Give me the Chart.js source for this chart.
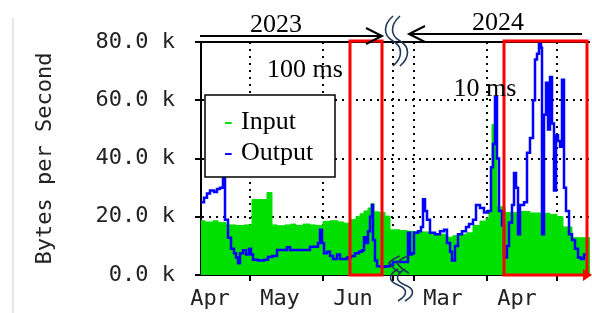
<!DOCTYPE html>
<html>
<head>
<meta charset="utf-8">
<script src="https://cdn.jsdelivr.net/npm/chart.js@4.4.1/dist/chart.umd.min.js"></script>
<style>
    html, body { margin: 0; padding: 0; background: #fff; }
    canvas { display: block; }
</style>
</head>
<body>
<canvas id="trafficChart" width="592" height="313"></canvas>
<script>
// Samples along the (joined) time axis, values in k bytes/s
const inputSample = [0, 4, 12, 17, 25, 35, 43, 51, 66, 71, 76, 84, 90, 95, 102, 109, 115, 122, 129, 137, 143, 149, 155, 159, 163, 167, 170, 173, 178, 184, 189, 199, 206, 212, 219, 229, 239, 246, 252, 259, 266, 272, 279, 285, 288, 291, 296, 304, 319, 329, 339, 349, 356, 362, 371, 389];
const inputK = [18.6, 18.2, 18.6, 18.0, 17.2, 17.0, 17.2, 25.9, 28.3, 17.2, 16.9, 17.2, 17.5, 17.0, 17.5, 17.2, 17.0, 18.4, 18.6, 18.2, 17.8, 19.0, 20.0, 21.0, 22.0, 23.0, 24.5, 21.7, 21.5, 20.2, 15.5, 15.3, 15.0, 14.8, 14.8, 14.2, 14.0, 13.0, 13.5, 14.0, 14.5, 17.0, 18.5, 19.5, 21.4, 51.7, 23.4, 21.5, 21.8, 21.3, 21.2, 20.8, 20.0, 16.5, 12.8, 12.8];

const outputSample = [0, 3, 6, 9, 13, 16, 19, 22, 24, 27, 30, 33, 35, 37, 39, 42, 45, 48, 50, 52, 57, 63, 67, 71, 76, 81, 86, 89, 94, 99, 105, 109, 114, 117, 119, 121, 123, 126, 129, 132, 136, 139, 143, 146, 150, 154, 158, 161, 163, 165, 167, 169, 171, 172, 174, 176, 180, 185, 189, 192, 206, 207, 209, 211, 213, 217, 220, 222, 224, 226, 229, 234, 239, 243, 246, 249, 251, 254, 257, 261, 265, 268, 272, 275, 279, 283, 287, 290, 292, 294, 296, 298, 301, 303, 306, 308, 311, 313, 315, 317, 319, 323, 326, 329, 332, 334, 336, 338, 340, 341, 343, 345, 347, 349, 351, 353, 355, 357, 359, 361, 363, 365, 368, 371, 374, 377, 380, 383, 385];
const outputK = [25.0, 26.5, 28.0, 29.0, 28.5, 29.5, 30.0, 33.4, 19.0, 12.8, 9.0, 7.5, 6.0, 4.0, 7.5, 8.5, 7.0, 9.0, 7.0, 5.2, 5.0, 5.2, 6.2, 6.5, 8.6, 8.6, 9.5, 8.6, 8.6, 8.6, 8.6, 9.7, 9.7, 11.0, 15.5, 11.0, 7.5, 8.0, 6.5, 5.5, 7.0, 5.5, 5.5, 6.0, 6.5, 7.5, 8.0, 8.5, 13.0, 11.0, 15.0, 20.0, 24.0, 12.0, 5.0, 3.0, 2.8, 3.0, 3.5, 4.5, 4.5, 14.5, 7.0, 7.5, 14.5, 15.0, 16.5, 26.0, 22.0, 19.0, 14.5, 14.0, 15.0, 15.5, 11.0, 8.0, 5.0, 10.0, 14.0, 15.0, 16.5, 17.5, 19.0, 24.0, 23.0, 21.5, 22.0, 37.0, 45.0, 61.0, 40.0, 22.0, 17.0, 6.0, 10.0, 18.0, 24.0, 35.0, 30.0, 14.0, 24.0, 25.0, 42.0, 47.0, 60.0, 74.0, 76.0, 80.0, 78.0, 14.0, 55.0, 66.0, 50.0, 68.0, 52.0, 29.0, 48.0, 46.0, 44.0, 67.0, 30.0, 22.0, 14.0, 12.0, 9.0, 6.0, 5.5, 7.0, 7.5];

// axis
const gridSamples = [49, 122, 192, 213, 286, 356];
const monthSamples = [9, 79, 152, 242, 316];
const monthLabels = ['Apr', 'May', 'Jun', 'Mar', 'Apr'];
const yTicksK = [0, 20, 40, 60, 80];

// annotations
const windowFrom = [149, 303];
const windowTo = [181, 386];
const windowText = ['100 ms', '10 ms'];
const windowTextAt = [104, 284];
const years = ['2023', '2024'];
const yearFrom = [-1, 381];
const yearTo = [181, 208];
const yearTextAt = [75, 297];
const breakAt = 192;

const toPoints = (xs, ys) => xs.map((v, i) => ({ x: v, y: ys[i] }));
const monoFont = { family: 'DejaVu Sans Mono', size: 22 };
const allXTicks = gridSamples.concat(monthSamples).sort((a, b) => a - b);

function drawArrow(ctx, x1, x2, yy) {
    const dir = x2 > x1 ? 1 : -1;
    ctx.beginPath();
    ctx.moveTo(x1, yy);
    ctx.lineTo(x2, yy);
    ctx.moveTo(x2 - dir * 16, yy - 8);
    ctx.lineTo(x2, yy);
    ctx.lineTo(x2 - dir * 16, yy + 8);
    ctx.stroke();
}

function drawWave(ctx, bx, y0, h) {
    for (let k = 0; k < 2; k++) {
        const dx = k * 7;
        ctx.beginPath();
        ctx.moveTo(bx + 4 + dx, y0);
        ctx.bezierCurveTo(bx - 6 + dx, y0 + h * 0.18, bx - 6 + dx, y0 + h * 0.38, bx + 4 + dx, y0 + h * 0.5);
        ctx.bezierCurveTo(bx + 14 + dx, y0 + h * 0.62, bx + 14 + dx, y0 + h * 0.82, bx + 4 + dx, y0 + h);
        ctx.stroke();
    }
}

const overlay = {
    id: 'overlay',
    afterDraw(chart) {
        const { ctx, chartArea: a, scales: { x, y } } = chart;
        const X = v => x.getPixelForValue(v);
        const Y = v => y.getPixelForValue(v);
        ctx.save();

        // faint page edge on the left
        ctx.strokeStyle = '#e6e6e6';
        ctx.lineWidth = 2;
        ctx.beginPath();
        ctx.moveTo(13, 18);
        ctx.lineTo(13, chart.height);
        ctx.stroke();

        // top frame
        ctx.strokeStyle = '#000';
        ctx.lineWidth = 2;
        ctx.beginPath();
        ctx.moveTo(a.left - 1, Y(80));
        ctx.lineTo(a.right, Y(80));
        ctx.stroke();

        // red axis arrow
        ctx.fillStyle = '#ff0000';
        ctx.beginPath();
        ctx.moveTo(a.right - 7, Y(0) - 6);
        ctx.lineTo(a.right + 2, Y(0));
        ctx.lineTo(a.right - 7, Y(0) + 6);
        ctx.fill();

        // red windows
        ctx.strokeStyle = '#ff0000';
        ctx.lineWidth = 3;
        windowFrom.forEach((f, i) => {
            ctx.strokeRect(X(f), Y(80) - 1, X(windowTo[i]) - X(f), Y(0) - Y(80) + 1);
        });

        ctx.fillStyle = '#000';
        ctx.font = '26px "Liberation Serif"';
        ctx.textAlign = 'center';
        ctx.textBaseline = 'alphabetic';
        windowText.forEach((t, i) => {
            ctx.fillText(t, X(windowTextAt[i]), Y(80) + (i === 0 ? 35 : 54));
        });

        // years with arrows
        ctx.strokeStyle = '#000';
        ctx.lineWidth = 2;
        years.forEach((t, i) => {
            ctx.fillText(t, X(yearTextAt[i]), a.top - (i === 0 ? 10 : 12));
            drawArrow(ctx, X(yearFrom[i]), X(yearTo[i]), a.top - (i === 0 ? 6 : 8));
        });

        // axis break marks
        const bx = X(breakAt);
        ctx.strokeStyle = '#1f3a5a';
        ctx.lineWidth = 1.6;
        drawWave(ctx, bx - 4, a.top - 26, 50);
        drawWave(ctx, bx + 1, Y(0) - 6, 32);
        for (let k = 0; k < 2; k++) {
            const tx = bx - 4 + k * 8;
            ctx.beginPath();
            ctx.moveTo(tx + 11, Y(0) - 19);
            ctx.quadraticCurveTo(tx + 3, Y(0) - 16, tx, Y(0) - 12);
            ctx.quadraticCurveTo(tx + 4, Y(0) - 6, tx + 12, Y(0) - 2);
            ctx.stroke();
        }

        // legend box
        const lx = a.left + 4, ly = a.top + 53;
        ctx.fillStyle = '#fff';
        ctx.fillRect(lx, ly, 130, 82);
        ctx.strokeStyle = '#000';
        ctx.lineWidth = 1.5;
        ctx.strokeRect(lx, ly, 130, 82);
        ctx.textAlign = 'left';
        chart.data.datasets.slice().reverse().forEach((ds, i) => {
            const ty = ly + 34 + i * 31;
            ctx.fillStyle = ds.legendColor;
            ctx.fillText('-', lx + 19, ty);
            ctx.fillStyle = '#000';
            ctx.fillText(ds.label, lx + 36, ty);
        });
        ctx.restore();
    }
};

new Chart(document.getElementById('trafficChart'), {
    type: 'line',
    data: {
        datasets: [{
            label: 'Output',
            data: toPoints(outputSample, outputK),
            borderColor: '#0000ff',
            legendColor: '#0000ff',
            borderWidth: 2.5,
            stepped: true,
            pointRadius: 0,
            fill: false,
            order: 0
        }, {
            label: 'Input',
            data: toPoints(inputSample, inputK),
            borderColor: '#00e000',
            backgroundColor: '#00e000',
            legendColor: '#00e000',
            borderWidth: 1,
            stepped: true,
            pointRadius: 0,
            fill: 'origin',
            order: 1
        }]
    },
    options: {
        responsive: false,
        animation: false,
        layout: { padding: { top: 42, right: 2, left: 0, bottom: 0 } },
        plugins: { legend: { display: false }, tooltip: { enabled: false } },
        scales: {
            x: {
                type: 'linear',
                min: 0,
                max: 389,
                z: 1,
                afterBuildTicks: s => { s.ticks = allXTicks.map(v => ({ value: v })); },
                afterFit: s => { s.height = 38; },
                grid: {
                    color: c => gridSamples.includes(c.tick.value) ? '#000' : 'transparent',
                    tickColor: c => gridSamples.includes(c.tick.value) ? '#000' : 'transparent',
                    lineWidth: 2,
                    tickWidth: 2,
                    tickLength: 6,
                    tickBorderDash: []
                },
                border: { color: '#000', width: 2, dash: [2, 5] },
                ticks: {
                    autoSkip: false,
                    maxRotation: 0,
                    padding: 5,
                    color: '#222',
                    font: monoFont,
                    callback: v => {
                        const i = monthSamples.indexOf(v);
                        return i >= 0 ? monthLabels[i] : '';
                    }
                }
            },
            y: {
                min: 0,
                max: 80,
                z: 1,
                afterBuildTicks: s => { s.ticks = yTicksK.map(v => ({ value: v })); },
                afterFit: s => { s.width = 201; },
                grid: {
                    color: '#000',
                    tickColor: '#000',
                    lineWidth: 2,
                    tickWidth: 2,
                    tickLength: 6,
                    tickBorderDash: []
                },
                border: { color: '#000', width: 2, dash: [2, 5] },
                ticks: {
                    padding: 20,
                    color: '#222',
                    font: monoFont,
                    callback: v => v.toFixed(1) + ' k'
                },
                title: {
                    display: true,
                    text: 'Bytes per Second',
                    color: '#222',
                    font: monoFont,
                    padding: { top: 32, bottom: 0 }
                }
            }
        }
    },
    plugins: [overlay]
});
</script>
</body>
</html>
